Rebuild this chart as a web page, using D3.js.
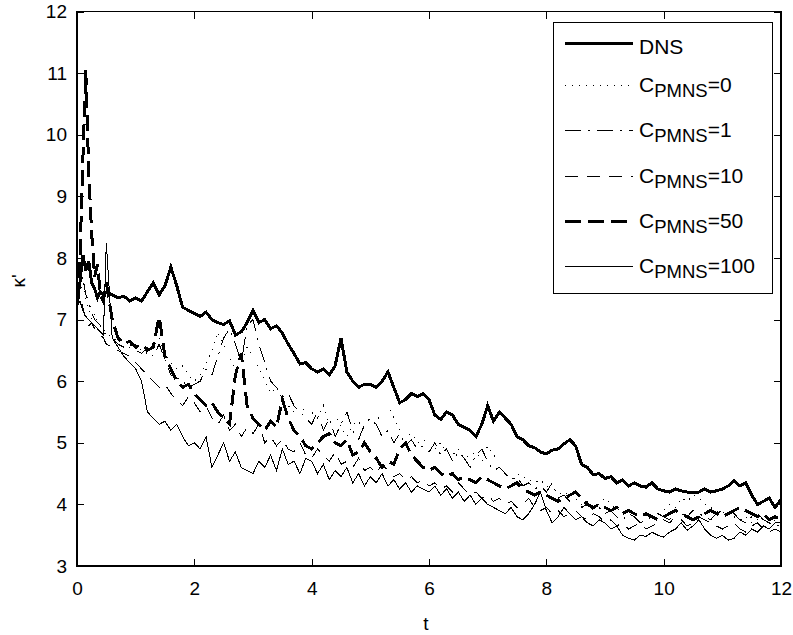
<!DOCTYPE html>
<html>
<head>
<meta charset="utf-8">
<script src="https://cdn.jsdelivr.net/npm/d3@7"></script>
<style>
  body { margin: 0; background: #fff; }
  text { font-family: "Liberation Sans", Arial, Helvetica, sans-serif; fill: #000; }
</style>
</head>
<body>
<svg id="chart" width="793" height="635"></svg>
<script>
// Sample times: 0.05 spacing up to 0.45, then 0.1 spacing to 12
const timeEarly = [0, 0.05, 0.1, 0.15, 0.2, 0.25, 0.3, 0.35, 0.4, 0.45];
const timeMain = d3.range(0, 116).map(i => +(0.5 + i * 0.1).toFixed(2));
const times = timeEarly.concat(timeMain);

// kappa' histories
const dns = [
  7.25, 7.6, 8.05, 7.8, 7.95, 7.6, 7.5, 7.35, 7.45, 7.4,
  7.45, 7.4, 7.35, 7.38, 7.3,
  7.35, 7.3, 7.45, 7.6, 7.4, 7.55, 7.85, 7.55, 7.2, 7.15,
  7.1, 7.05, 7.12, 7.0, 6.95, 6.92, 6.98, 6.75, 6.8, 6.95,
  7.15, 6.95, 7.0, 6.85, 6.9, 6.78, 6.6, 6.45, 6.28, 6.3,
  6.2, 6.15, 6.2, 6.1, 6.25, 6.7, 6.15, 6.0, 5.9, 5.95,
  5.95, 5.9, 6.0, 6.15, 5.9, 5.65, 5.7, 5.8, 5.75, 5.8,
  5.7, 5.45, 5.38, 5.5, 5.45, 5.3, 5.25, 5.2, 5.1, 5.3,
  5.6, 5.35, 5.5, 5.4, 5.3, 5.1, 5.05, 4.95, 4.92, 4.85,
  4.82, 4.88, 4.9, 4.98, 5.05, 4.95, 4.65, 4.6, 4.48, 4.5,
  4.42, 4.45, 4.35, 4.4, 4.3, 4.35, 4.3, 4.28, 4.35, 4.25,
  4.22, 4.2, 4.25, 4.22, 4.2, 4.2, 4.2, 4.25, 4.2, 4.22,
  4.25, 4.3, 4.38, 4.3, 4.35, 4.15, 4.0, 4.05, 4.1, 3.95,
  4.08
];
const cpmns0 = [
  7.3, 7.45, 7.6, 7.3, 7.2, 7.0, 7.1, 6.95, 6.9, 6.85,
  6.8, 6.7, 6.65, 6.7, 6.55,
  6.6, 6.5, 6.45, 6.6, 6.7, 6.45, 6.3, 6.2, 6.25, 6.1,
  6.0, 6.1, 6.3, 6.5, 6.8, 6.6, 6.4, 6.2, 6.3, 6.55,
  6.4, 6.2, 6.0, 5.8, 5.9, 5.7, 5.6, 5.5, 5.45, 5.6,
  5.5, 5.4, 5.6, 5.3, 5.45, 5.25, 5.1, 5.3, 5.35, 5.2,
  5.25, 5.35, 5.5, 5.6, 5.4, 5.2, 5.1, 5.15, 5.0, 5.05,
  4.95, 4.9, 5.0, 4.85, 4.8, 4.9, 4.75, 4.8, 4.85, 4.7,
  4.95, 4.8, 4.7, 4.6, 4.65, 4.5, 4.45, 4.4, 4.35, 4.4,
  4.3, 4.25, 4.2, 4.15, 4.2, 4.1, 4.0, 4.05, 3.95, 4.0,
  4.1, 4.0, 3.9, 3.95, 3.85, 3.8, 3.9, 3.85, 3.8, 3.85,
  3.9, 4.0, 3.95, 4.1, 4.05, 4.15, 4.1, 4.0, 3.95, 3.9,
  3.85, 3.9, 3.8, 3.75, 3.8, 3.7, 3.75, 3.7, 3.65, 3.75,
  3.7
];
const cpmns1 = [
  7.3, 7.5, 7.7, 7.4, 7.3, 7.1, 7.0, 6.95, 6.9, 6.8,
  6.75, 6.7, 6.6, 6.55, 6.6,
  6.5, 6.45, 6.55, 6.4, 6.6, 6.35, 6.1, 6.05, 6.0, 5.9,
  5.95, 6.0, 6.2, 6.1, 6.4, 6.7, 6.85, 6.6, 6.3, 6.9,
  7.0, 6.6, 6.3, 6.0, 5.9, 5.75, 5.8, 5.6, 5.5, 5.4,
  5.3, 5.5, 5.2, 5.4, 5.1, 5.3, 5.5, 5.2, 5.05, 5.3,
  5.4, 5.3, 5.1, 5.2, 5.0, 5.15, 4.95, 5.05, 4.9, 4.95,
  4.85, 5.0, 4.8, 4.9, 4.7, 4.85, 4.75, 4.6, 4.8, 4.9,
  4.7, 4.55, 4.6, 4.5, 4.4, 4.45, 4.3, 4.35, 4.25, 4.3,
  4.2, 4.35, 4.1, 4.15, 4.05, 4.1, 3.95, 4.0, 3.9, 3.95,
  3.85, 3.9, 3.8, 3.75, 3.85, 3.8, 3.7, 3.75, 3.8, 3.85,
  3.8, 3.75, 3.9, 3.85, 3.8, 3.9, 3.85, 3.8, 3.75, 3.85,
  3.9, 3.8, 3.85, 3.75, 3.7, 3.8, 3.85, 3.75, 3.7, 3.65,
  3.65
];
const cpmns10 = [
  7.2, 7.4, 7.2, 7.0, 6.9, 6.95, 6.85, 6.8, 6.75, 6.7,
  6.6, 6.55, 6.5, 6.45, 6.4,
  6.3, 6.2, 6.1, 6.0, 5.9, 5.95, 5.8, 5.7, 5.6, 5.75,
  5.65, 5.5, 5.6, 5.4, 5.3, 5.45, 5.2, 5.3, 5.1, 5.25,
  5.15, 5.3, 5.0, 5.1, 4.95, 5.05, 4.9, 4.85, 5.0, 4.8,
  4.75, 4.9, 4.8, 4.7, 4.85, 4.65, 4.7, 4.6, 4.75, 4.55,
  4.6, 4.5, 4.65, 4.55, 4.45, 4.5, 4.4, 4.45, 4.35, 4.4,
  4.3, 4.35, 4.25, 4.3, 4.2, 4.35, 4.25, 4.15, 4.2, 4.1,
  4.15, 4.05, 4.1, 4.0, 4.05, 3.95, 4.0, 4.1, 3.95, 3.9,
  3.95, 3.85, 3.9, 3.8, 3.85, 3.9, 3.8, 3.75, 3.85, 3.8,
  3.7, 3.75, 3.65, 3.7, 3.6, 3.65, 3.7, 3.6, 3.65, 3.7,
  3.75, 3.7, 3.8, 3.75, 3.65, 3.7, 3.8, 3.75, 3.7, 3.65,
  3.6, 3.65, 3.7, 3.6, 3.55, 3.65, 3.7, 3.6, 3.55, 3.6,
  3.55
];
const cpmns50 = [
  7.3, 8.0, 9.6, 11.05, 9.4, 8.4, 7.7, 7.9, 7.4, 7.3,
  7.6, 7.0, 6.7, 6.6, 6.65,
  6.55, 6.6, 6.5, 6.55, 7.05, 6.4, 6.2, 6.0, 5.9, 5.95,
  5.8, 5.7, 5.6, 5.65, 5.5, 5.4, 5.3, 6.1, 6.45, 5.6,
  5.4, 5.3, 5.2, 5.35, 5.25, 5.7, 5.4, 5.2, 5.1, 4.95,
  4.9, 5.0, 5.1, 5.15, 5.0, 4.95, 5.05, 4.8, 4.85, 5.0,
  4.85, 4.75, 4.6, 4.7, 4.65, 4.9, 5.0, 4.8, 4.7, 4.6,
  4.55, 4.6, 4.5, 4.45, 4.5, 4.4, 4.45, 4.4, 4.35, 4.45,
  4.4, 4.35, 4.3, 4.25, 4.3, 4.35, 4.25, 4.2, 4.15, 4.2,
  4.15, 4.1, 4.05, 4.1, 4.15, 4.2, 4.1, 4.0, 3.95, 4.0,
  3.95, 3.9, 3.95, 3.85, 3.9, 3.85, 3.8, 3.85, 3.8, 3.75,
  3.8, 3.85, 3.9, 3.85, 3.8, 3.75, 3.8, 3.85, 3.9, 3.85,
  3.8, 3.85, 3.9, 3.95, 3.9, 3.85, 3.8, 3.85, 3.75, 3.8,
  3.75
];
const cpmns100 = [
  7.2, 7.3, 7.15, 7.05, 7.0, 6.95, 6.9, 6.85, 6.8, 6.75,
  8.25, 6.7, 6.55, 6.4, 6.3,
  6.2, 6.0, 5.5, 5.4, 5.3, 5.35, 5.2, 5.3, 5.1, 4.95,
  5.0, 4.9, 5.1, 4.6, 4.8, 5.0, 4.7, 4.85, 4.6, 4.55,
  4.5, 4.7, 4.6, 4.8, 4.55, 4.9, 4.65, 4.7, 4.5, 4.75,
  4.7, 4.5, 4.65, 4.4, 4.55, 4.45, 4.6, 4.35, 4.5, 4.3,
  4.45, 4.35, 4.5, 4.3, 4.4, 4.25, 4.35, 4.2, 4.3, 4.25,
  4.2, 4.3, 4.15, 4.25, 4.1, 4.2, 4.05, 4.15, 4.0, 4.1,
  4.0, 3.95, 3.9, 3.85, 3.95, 3.8, 3.75, 3.85, 4.0, 4.2,
  3.9, 3.7, 3.8, 3.95, 3.85, 3.75, 3.8, 3.7, 3.65, 3.75,
  3.7, 3.6, 3.65, 3.5, 3.45, 3.42, 3.5, 3.48, 3.55, 3.5,
  3.47, 3.55, 3.6, 3.7, 3.58, 3.65, 3.75, 3.6, 3.5, 3.45,
  3.5, 3.42, 3.45, 3.55, 3.5, 3.6, 3.55, 3.65, 3.6, 3.7,
  3.7
];

const xTicks = [0, 2, 4, 6, 8, 10, 12];
const yTicks = [3, 4, 5, 6, 7, 8, 9, 10, 11, 12];

// Series labels and line styles, in drawing order
const seriesNames = ["DNS", "0", "1", "10", "50", "100"];
const seriesValues = [dns, cpmns0, cpmns1, cpmns10, cpmns50, cpmns100];
const seriesWidths = [3, 1, 1, 1, 3, 1];
const seriesDashes = [null, "1,6", "16,7,2,7", "13,9", "16,7", null];

const svg = d3.select("#chart");
const W = 793, H = 635;
const plot = { left: 77, right: 781, top: 11.5, bottom: 566 };

const x = d3.scaleLinear().domain([0, 12]).range([plot.left, plot.right]);
const y = d3.scaleLinear().domain([3, 12]).range([plot.bottom, plot.top]);

svg.append("rect").attr("width", W).attr("height", H).attr("fill", "#fff");

svg.append("defs").append("clipPath").attr("id", "plotClip")
  .append("rect")
  .attr("x", plot.left).attr("y", plot.top)
  .attr("width", plot.right - plot.left).attr("height", plot.bottom - plot.top);

// Data lines
const line = d3.line()
  .x(d => x(d[0]))
  .y(d => y(d[1]));

const lines = svg.append("g").attr("clip-path", "url(#plotClip)");
seriesValues.forEach((vals, i) => {
  const pts = times.map((t, k) => [t, vals[k]]);
  lines.append("path")
    .datum(pts)
    .attr("d", line)
    .attr("fill", "none")
    .attr("stroke", "#000")
    .attr("stroke-width", seriesWidths[i])
    .attr("stroke-linejoin", "miter")
    .attr("stroke-dasharray", seriesDashes[i])
    .attr("shape-rendering", "crispEdges");
});

// Axes: inward ticks on all four sides
const fontSize = 19;
const axisStyle = g => {
  g.select(".domain").remove();
  g.selectAll(".tick line").attr("stroke", "#000").attr("stroke-width", 1)
    .attr("shape-rendering", "crispEdges");
  g.selectAll(".tick text")
    .attr("font-family", "Liberation Sans, Arial, sans-serif")
    .attr("font-size", fontSize).attr("fill", "#000");
};

svg.append("g").attr("transform", `translate(0,${plot.bottom})`)
  .call(d3.axisBottom(x).tickValues(xTicks).tickFormat(d3.format("d"))
    .tickSizeInner(-7).tickSizeOuter(0).tickPadding(16))
  .call(axisStyle);
svg.append("g").attr("transform", `translate(0,${plot.top})`)
  .call(d3.axisTop(x).tickValues(xTicks).tickFormat("")
    .tickSizeInner(-7).tickSizeOuter(0))
  .call(axisStyle);
svg.append("g").attr("transform", `translate(${plot.left},0)`)
  .call(d3.axisLeft(y).tickValues(yTicks).tickFormat(d3.format("d"))
    .tickSizeInner(-7).tickSizeOuter(0).tickPadding(10))
  .call(axisStyle);
svg.append("g").attr("transform", `translate(${plot.right},0)`)
  .call(d3.axisRight(y).tickValues(yTicks).tickFormat("")
    .tickSizeInner(-7).tickSizeOuter(0))
  .call(axisStyle);

svg.append("rect")
  .attr("x", plot.left).attr("y", plot.top)
  .attr("width", plot.right - plot.left).attr("height", plot.bottom - plot.top)
  .attr("fill", "none").attr("stroke", "#000").attr("stroke-width", 1.2)
  .attr("shape-rendering", "crispEdges");

// Axis labels
svg.append("text")
  .attr("x", (plot.left + plot.right) / 2 - 3).attr("y", 630)
  .attr("text-anchor", "middle").attr("font-size", fontSize)
  .text("t");
svg.append("text")
  .attr("transform", "translate(25,281) rotate(-90)")
  .attr("text-anchor", "middle").attr("font-size", fontSize)
  .text("κ'");

// Legend
const legend = { left: 553, top: 22, right: 772, bottom: 293 };
const lg = svg.append("g");
lg.append("rect")
  .attr("x", legend.left).attr("y", legend.top)
  .attr("width", legend.right - legend.left).attr("height", legend.bottom - legend.top)
  .attr("fill", "#fff").attr("stroke", "#000").attr("stroke-width", 1)
  .attr("shape-rendering", "crispEdges");

const rowY = [43, 85, 130.5, 176, 221, 266];
const legendFont = 21, subFont = 18.5;
seriesNames.forEach((name, i) => {
  const ly = rowY[i];
  lg.append("line")
    .attr("x1", 565).attr("x2", 633).attr("y1", ly).attr("y2", ly)
    .attr("stroke", "#000").attr("stroke-width", seriesWidths[i])
    .attr("stroke-dasharray", seriesDashes[i])
    .attr("shape-rendering", "crispEdges");
  const t = lg.append("text").attr("x", 639).attr("font-size", legendFont);
  if (i === 0) {
    t.attr("y", ly + 11).text(name);
  } else {
    t.attr("y", ly + 6.5);
    t.append("tspan").text("C");
    t.append("tspan").attr("font-size", subFont).attr("dy", 5).text("PMNS");
    t.append("tspan").attr("dy", -5).text("=" + name);
  }
});
</script>
</body>
</html>
